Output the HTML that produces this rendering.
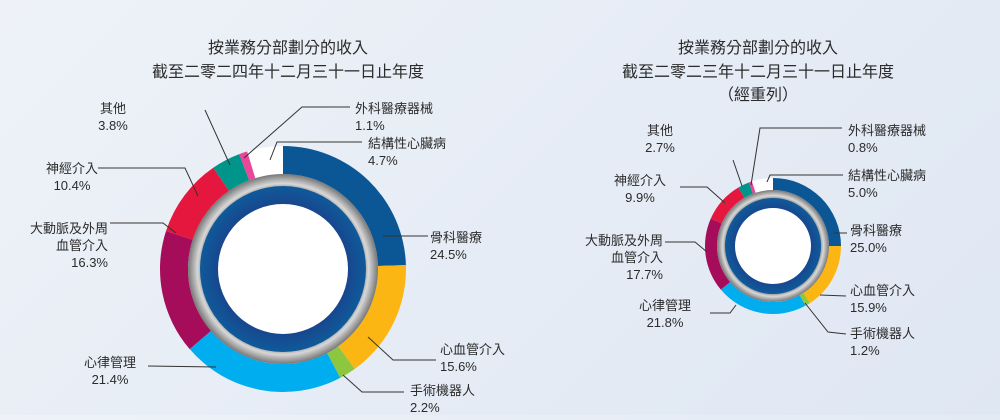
<!DOCTYPE html>
<html><head><meta charset="utf-8"><style>
body{margin:0;width:1000px;height:415px;overflow:hidden;background:linear-gradient(135deg,#eef2f8,#dfe7f3);font-family:"Liberation Sans","Noto Sans CJK TC",sans-serif;}
svg text{font-family:"Liberation Sans","Noto Sans CJK TC",sans-serif;fill:#2b2b2b;}
</style></head><body>
<svg id="c" width="1000" height="415">
<defs>
<radialGradient id="gray"><stop offset="80%" stop-color="#555"/><stop offset="90%" stop-color="#d8d8d8"/><stop offset="100%" stop-color="#777"/></radialGradient>
<radialGradient id="blue"><stop offset="70%" stop-color="#1b3f8a"/><stop offset="100%" stop-color="#0f5a9a"/></radialGradient>
</defs>
<g>
<text x="288" y="53" text-anchor="middle" font-size="16">按業務分部劃分的收入</text>
<text x="288" y="77" text-anchor="middle" font-size="16">截至二零二四年十二月三十一日止年度</text>
</g>
<g>
<text x="758" y="53" text-anchor="middle" font-size="16">按業務分部劃分的收入</text>
<text x="758" y="77" text-anchor="middle" font-size="16">截至二零二三年十二月三十一日止年度</text>
<text x="758" y="100" text-anchor="middle" font-size="16">（經重列）</text>
</g>
</svg>
<script>
const categories=["骨科醫療","心血管介入","手術機器人","心律管理","大動脈及外周血管介入","神經介入","其他","外科醫療器械","結構性心臟病"];
const values2024=[24.5,15.6,2.2,21.4,16.3,10.4,3.8,1.1,4.7];
const values2023=[25.0,15.9,1.2,21.8,17.7,9.9,2.7,0.8,5.0];
const colors=["#0b5796","#fbb614","#8dc63f","#00aeef","#a50d5b","#e5173f","#00958a","#e8479a","#ffffff"];
const svg=document.getElementById('c');
const NS="http://www.w3.org/2000/svg";
function mk(t,a,p){const e=document.createElementNS(NS,t);for(const k in a)e.setAttribute(k,a[k]);(p||svg).appendChild(e);return e;}
function donut(vals,cx,cy,R,r,g1,b1,w,name){
  const g=mk('g',{});
  
  
  const tot=vals.reduce((a,b)=>a+b,0);let a0=0;
  vals.forEach((v,i)=>{const a1=a0+v/tot*2*Math.PI;
    const p=(a,rr)=>[cx+rr*Math.sin(a),cy-rr*Math.cos(a)];
    const [x1,y1]=p(a0,R),[x2,y2]=p(a1,R),[x3,y3]=p(a1,r),[x4,y4]=p(a0,r);const L=(a1-a0)>Math.PI?1:0;
    const s=mk('path',{d:`M${x1},${y1}A${R},${R} 0 ${L} 1 ${x2},${y2}L${x3},${y3}A${r},${r} 0 ${L} 0 ${x4},${y4}Z`,fill:colors[i]},g);
    
    
    a0=a1;});
  const c1=mk('circle',{cx,cy,r:g1,fill:'url(#gray)'},g);
  
  
  const c2=mk('circle',{cx,cy,r:b1,fill:'url(#blue)'},g);
  
  
  const c3=mk('circle',{cx,cy,r:w,fill:'#fff'},g);
  
  
}
donut(values2024,283,269,123,95,95,83,65,'donut-2024');
donut(values2023,773,246,68,56,56,48,38,'donut-2023');
function label(lines,x,y,anchor,pts,name){
  const g=mk('g',{});
  
  
  const l=mk('polyline',{points:pts,fill:'none',stroke:'#333','stroke-width':1},g);
  lines.forEach((t,i)=>{const e=mk('text',{x,y:y+i*17,'font-size':13,'text-anchor':anchor},g);e.textContent=t;});
}
const vp=v=>v.toFixed(1)+'%';
label(["其他",vp(values2024[6])],113,113,'middle',"205,110 230,165",'label-other-2024');
label(["外科醫療器械",vp(values2024[7])],355,113,'start',"350,107 302,107 244,158",'label-surgical-2024');
label(["結構性心臟病",vp(values2024[8])],368,148,'start',"362,142 277,142 270,160",'label-structural-2024');
label(["神經介入",vp(values2024[5])],72,173,'middle',"98,168 185,168 198,196",'label-neuro-2024');
label(["大動脈及外周","血管介入",vp(values2024[4])],108,233,'end',"110,223 163,223 176,233",'label-aortic-2024');
label(["心律管理",vp(values2024[3])],110,367,'middle',"148,366 216,367",'label-crm-2024');
label(["骨科醫療",vp(values2024[0])],430,242,'start',"383,236 428,236",'label-ortho-2024');
label(["心血管介入",vp(values2024[1])],440,354,'start',"368,337 393,360 436,360",'label-cardio-2024');
label(["手術機器人",vp(values2024[2])],410,395,'start',"343,375 362,392 404,392",'label-robot-2024');
label(["其他",vp(values2023[6])],660,135,'middle',"733,160 742,186",'label-other-2023');
label(["外科醫療器械",vp(values2023[7])],848,135,'start',"842,128 760,128 751,185",'label-surgical-2023');
label(["結構性心臟病",vp(values2023[8])],848,180,'start',"843,175 770,175 767,182",'label-structural-2023');
label(["神經介入",vp(values2023[5])],640,185,'middle',"680,187 707,187 725,203",'label-neuro-2023');
label(["大動脈及外周","血管介入",vp(values2023[4])],663,245,'end',"665,242 695,242 707,252",'label-aortic-2023');
label(["心律管理",vp(values2023[3])],665,310,'middle',"710,313 730,313 736,305",'label-crm-2023');
label(["骨科醫療",vp(values2023[0])],850,235,'start',"834,233 847,233",'label-ortho-2023');
label(["心血管介入",vp(values2023[1])],850,295,'start',"820,295 846,296",'label-cardio-2023');
label(["手術機器人",vp(values2023[2])],850,338,'start',"805,303 828,332 846,334",'label-robot-2023');
</script>
</body></html>
